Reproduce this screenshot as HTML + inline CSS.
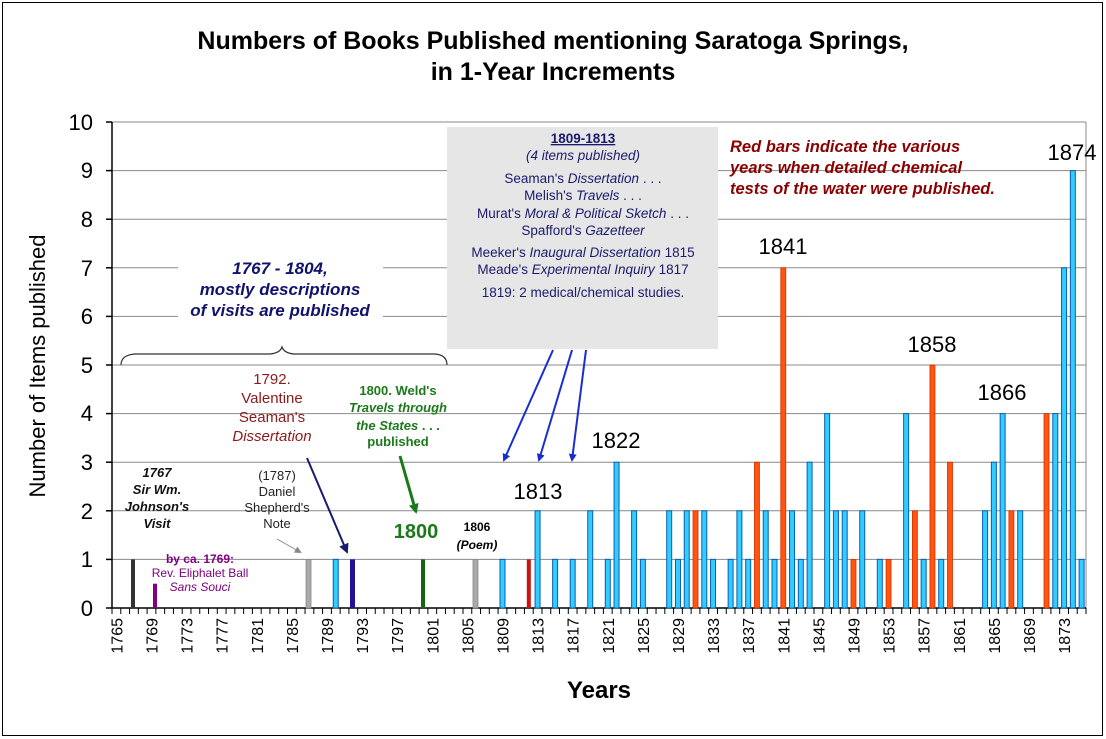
<!DOCTYPE html>
<html><head><meta charset="utf-8"><style>
html,body{margin:0;padding:0;background:#fff}
svg{display:block}
text{font-family:"Liberation Sans",Arial,sans-serif}
</style></head><body>
<svg width="1106" height="739" viewBox="0 0 1106 739" xmlns="http://www.w3.org/2000/svg">
<rect x="2.5" y="2.5" width="1100" height="733" fill="#fff" stroke="#000" stroke-width="1"/>
<text x="553" y="49" text-anchor="middle" font-size="25" font-weight="bold">Numbers of Books Published mentioning Saratoga Springs,</text>
<text x="553" y="80" text-anchor="middle" font-size="25" font-weight="bold">in 1-Year Increments</text>
<g stroke="#8a8a8a" stroke-width="1">
<line x1="112" y1="559.4" x2="1086" y2="559.4"/><line x1="112" y1="510.8" x2="1086" y2="510.8"/>
<line x1="112" y1="462.2" x2="1086" y2="462.2"/><line x1="112" y1="413.6" x2="1086" y2="413.6"/>
<line x1="112" y1="365" x2="1086" y2="365"/><line x1="112" y1="316.4" x2="1086" y2="316.4"/>
<line x1="112" y1="267.8" x2="1086" y2="267.8"/><line x1="112" y1="219.2" x2="1086" y2="219.2"/>
<line x1="112" y1="170.6" x2="1086" y2="170.6"/><line x1="112" y1="122" x2="1086" y2="122"/>
<line x1="1086" y1="122" x2="1086" y2="608"/>
</g>
<g stroke="#000" stroke-width="1.5">
<line x1="112" y1="122" x2="112" y2="608"/><line x1="106" y1="608" x2="1086" y2="608"/>
<line x1="106" y1="559.4" x2="112" y2="559.4"/><line x1="106" y1="510.8" x2="112" y2="510.8"/>
<line x1="106" y1="462.2" x2="112" y2="462.2"/><line x1="106" y1="413.6" x2="112" y2="413.6"/>
<line x1="106" y1="365" x2="112" y2="365"/><line x1="106" y1="316.4" x2="112" y2="316.4"/>
<line x1="106" y1="267.8" x2="112" y2="267.8"/><line x1="106" y1="219.2" x2="112" y2="219.2"/>
<line x1="106" y1="170.6" x2="112" y2="170.6"/><line x1="106" y1="122" x2="112" y2="122"/>
</g>
<g font-size="22" text-anchor="end">
<text x="93" y="616">0</text><text x="93" y="567">1</text><text x="93" y="519">2</text><text x="93" y="470">3</text><text x="93" y="421">4</text><text x="93" y="373">5</text><text x="93" y="324">6</text><text x="93" y="276">7</text><text x="93" y="227">8</text><text x="93" y="178">9</text><text x="93" y="130">10</text>
</g>
<text transform="translate(45,366) rotate(-90)" text-anchor="middle" font-size="22">Number of Items published</text>
<text x="599" y="698" text-anchor="middle" font-size="24" font-weight="bold">Years</text>
<g id="ticks" stroke="#000" stroke-width="1"></g>
<g id="xl" font-size="16" text-anchor="end"></g>
<g id="bars"></g>
<rect x="447" y="127" width="271" height="222" fill="#e6e6e6"/>
<g fill="#1a1a6e" font-size="13.5" text-anchor="middle">
<text x="583" y="143" font-weight="bold" text-decoration="underline">1809-1813</text>
<text x="583" y="160" font-style="italic">(4 items published)</text>
<text x="583" y="183">Seaman's <tspan font-style="italic">Dissertation</tspan> . . .</text>
<text x="583" y="200">Melish's <tspan font-style="italic">Travels</tspan> . . .</text>
<text x="583" y="218">Murat's <tspan font-style="italic">Moral &amp; Political Sketch</tspan> . . .</text>
<text x="583" y="235">Spafford's <tspan font-style="italic">Gazetteer</tspan></text>
<text x="583" y="257">Meeker's <tspan font-style="italic">Inaugural Dissertation</tspan> 1815</text>
<text x="583" y="274">Meade's <tspan font-style="italic">Experimental Inquiry</tspan> 1817</text>
<text x="583" y="297">1819: 2 medical/chemical studies.</text>
</g>
<g fill="#8b0000" font-size="16.5" font-weight="bold" font-style="italic">
<text x="730" y="152">Red bars indicate the various</text>
<text x="730" y="173">years when detailed chemical</text>
<text x="730" y="194">tests of the water were published.</text>
</g>
<rect x="178" y="255" width="205" height="70" fill="#fff"/>
<g fill="#11116e" font-size="17" font-weight="bold" font-style="italic" text-anchor="middle">
<text x="280" y="274">1767 - 1804,</text>
<text x="280" y="295">mostly descriptions</text>
<text x="280" y="316">of visits are published</text>
</g>
<path d="M121,365 Q121,355 135,354 L270,354 Q280,353 282,347 Q284,353 294,354 L435,354 Q447,355 447,365" fill="none" stroke="#333" stroke-width="1.2"/>
<g fill="#8b1a1a" font-size="15" text-anchor="middle">
<text x="272" y="384">1792.</text>
<text x="272" y="403">Valentine</text>
<text x="272" y="422">Seaman's</text>
<text x="272" y="441" font-style="italic">Dissertation</text>
</g>
<g fill="#1a7a1a" font-size="13" font-weight="bold" text-anchor="middle">
<text x="398" y="395">1800.   Weld's</text>
<text x="398" y="412" font-style="italic">Travels through</text>
<text x="398" y="430"><tspan font-style="italic">the States</tspan> . . .</text>
<text x="398" y="446">published</text>
</g>
<g font-size="13" font-weight="bold" font-style="italic" text-anchor="middle" fill="#111">
<text x="157" y="477">1767</text><text x="157" y="494">Sir Wm.</text><text x="157" y="511">Johnson's</text><text x="157" y="528">Visit</text>
</g>
<g font-size="13" text-anchor="middle" fill="#222">
<text x="277" y="480">(1787)</text><text x="277" y="496">Daniel</text><text x="277" y="512">Shepherd's</text><text x="277" y="528">Note</text>
</g>
<text x="200" y="563" font-size="12" font-weight="bold" fill="#800080" text-anchor="middle">by ca. 1769:</text>
<text x="200" y="577" font-size="12" fill="#800080" text-anchor="middle">Rev. Eliphalet Ball</text>
<text x="200" y="591" font-size="12" fill="#800080" font-style="italic" text-anchor="middle">Sans Souci</text>
<text x="416" y="538" font-size="20" font-weight="bold" fill="#1a7a1a" text-anchor="middle">1800</text>
<text x="477" y="531" font-size="12" font-weight="bold" text-anchor="middle">1806</text>
<text x="477" y="549" font-size="12" font-weight="bold" font-style="italic" text-anchor="middle">(Poem)</text>
<g font-size="22" text-anchor="middle" fill="#000">
<text x="538" y="499">1813</text><text x="616" y="448">1822</text><text x="783" y="254">1841</text>
<text x="932" y="352">1858</text><text x="1002" y="400">1866</text><text x="1072" y="160">1874</text>
</g>
<defs>
<marker id="ab" markerWidth="8" markerHeight="8" refX="6" refY="4" orient="auto" markerUnits="userSpaceOnUse"><path d="M0,0 L8,4 L0,8 z" fill="#1a2ed0"/></marker>
<marker id="an" markerWidth="10" markerHeight="10" refX="8" refY="5" orient="auto" markerUnits="userSpaceOnUse"><path d="M0,0 L10,5 L0,10 z" fill="#1a1a70"/></marker>
<marker id="ag" markerWidth="10" markerHeight="10" refX="8" refY="5" orient="auto" markerUnits="userSpaceOnUse"><path d="M0,0 L10,5 L0,10 z" fill="#1a7a1a"/></marker>
<marker id="agr" markerWidth="7" markerHeight="7" refX="5" refY="3.5" orient="auto" markerUnits="userSpaceOnUse"><path d="M0,0 L7,3.5 L0,7 z" fill="#888"/></marker>
</defs>
<g stroke-width="2" fill="none">
<line x1="553" y1="350" x2="504" y2="460" stroke="#1a2ed0" marker-end="url(#ab)"/>
<line x1="572" y1="350" x2="539" y2="460" stroke="#1a2ed0" marker-end="url(#ab)"/>
<line x1="586" y1="350" x2="572" y2="460" stroke="#1a2ed0" marker-end="url(#ab)"/>
<line x1="307" y1="458" x2="347" y2="552" stroke="#1a1a70" marker-end="url(#an)"/>
<line x1="400" y1="456" x2="416" y2="512" stroke="#1a7a1a" stroke-width="3" marker-end="url(#ag)"/>
<line x1="277" y1="539" x2="300" y2="552" stroke="#888" stroke-width="1" marker-end="url(#agr)"/>
</g>
<script>
(function(){
var NS="http://www.w3.org/2000/svg";
function el(p,n,a,t){var e=document.createElementNS(NS,n);for(var k in a)e.setAttribute(k,a[k]);if(t)e.textContent=t;p.appendChild(e);return e;}
var W=974/111, x0=112, y0=608, U=48.6;
function cx(y){return x0+(y-1765+0.5)*W;}
var tk=document.getElementById('ticks'), xl=document.getElementById('xl'), bg=document.getElementById('bars');
for(var i=0;i<=111;i++){var x=x0+i*W;el(tk,'line',{x1:x,y1:608,x2:x,y2:614});}
for(var y=1765;y<=1873;y+=4){var x=cx(y)+6;el(xl,'text',{transform:'translate('+x+',618) rotate(-90)'},String(y));}
var B='b',R='r';
var data=[[1790,1,B],[1809,1,B],[1812,1,'#cc1111'],[1813,2,B],[1815,1,B],[1817,1,B],[1819,2,B],[1821,1,B],[1822,3,B],[1824,2,B],[1825,1,B],[1828,2,B],[1829,1,B],[1830,2,B],[1831,2,R],[1832,2,B],[1833,1,B],[1835,1,B],[1836,2,B],[1837,1,B],[1838,3,R],[1839,2,B],[1840,1,B],[1841,7,R],[1842,2,B],[1843,1,B],[1844,3,B],[1846,4,B],[1847,2,B],[1848,2,B],[1849,1,R],[1850,2,B],[1852,1,B],[1853,1,R],[1855,4,B],[1856,2,R],[1857,1,B],[1858,5,R],[1859,1,B],[1860,3,R],[1864,2,B],[1865,3,B],[1866,4,B],[1867,2,R],[1868,2,B],[1871,4,R],[1872,4,B],[1873,7,B],[1874,9,B],[1875,1,B]];
data.forEach(function(d){var x=cx(d[0]),h=d[1]*U;
 if(d[2]==B) el(bg,'rect',{x:x-2.5,y:y0-h,width:5,height:h,fill:'#33ccff',stroke:'#0a5fb0','stroke-width':1});
 else if(d[2]==R) el(bg,'rect',{x:x-2.5,y:y0-h,width:5,height:h,fill:'#ff5511',stroke:'#d03000','stroke-width':0.8});
 else el(bg,'rect',{x:x-2,y:y0-h,width:4,height:h,fill:d[2]});
});
el(bg,'rect',{x:131,y:y0-U,width:4,height:U,fill:'#333'});
el(bg,'rect',{x:153,y:y0-U/2,width:4,height:U/2,fill:'#800080'});
el(bg,'rect',{x:306,y:y0-U,width:5,height:U,fill:'#aaa',stroke:'#888','stroke-width':0.8});
el(bg,'rect',{x:350,y:y0-U,width:5,height:U,fill:'#22119a'});
el(bg,'rect',{x:421,y:y0-U,width:4,height:U,fill:'#116611'});
el(bg,'rect',{x:473,y:y0-U,width:5,height:U,fill:'#aaa',stroke:'#888','stroke-width':0.8});
})();
</script>
</svg>
</body></html>
